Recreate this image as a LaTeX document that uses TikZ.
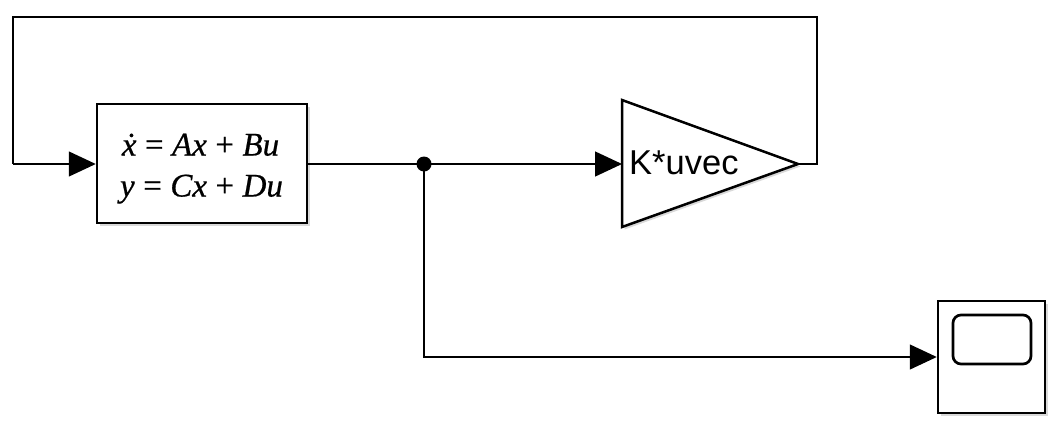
\documentclass[tikz,border=0pt]{standalone}
\usepackage{fontspec}
\setmainfont{Liberation Serif}
\newfontfamily\eqfont[FakeBold=0.6,ItalicFeatures={FakeBold=0.6}]{Liberation Serif}
\newfontfamily\gainfont{Liberation Sans}
\usetikzlibrary{arrows.meta,shadows}
\tikzset{
  sig/.style={line width=1.3pt},
  sigarrow/.style={sig,-{Triangle[length=27pt,width=25pt]}},
  blockshadow/.style={drop shadow={opacity=0.3,shadow xshift=2.5pt,shadow yshift=-2.5pt}},
  blk/.style={draw,line width=2.5pt,fill=white,blockshadow,inner sep=0pt},
  eqtext/.style={anchor=base,inner sep=0pt,font=\eqfont\fontsize{33}{38}\selectfont},
}
\newcommand{\gap}{\hspace{8.5pt}}
\begin{document}
\begin{tikzpicture}[x=1pt,y=-1pt]
\useasboundingbox (0,0) rectangle (1054,421);
% state-space block
\node[blk,minimum width=210pt,minimum height=119pt] (ss) at (202,163.5) {};
\node[eqtext] (eq1) at (200.5,155.5) {\textit{\.{x}}\gap=\gap\textit{Ax}\gap+\gap\textit{Bu}};
\node[eqtext] (eq2) at (201.5,196.5) {\textit{y}\gap=\gap\textit{Cx}\gap+\gap\textit{Du}};
% gain block
\coordinate (gin) at (622,164);
\coordinate (gout) at (798,164);
\filldraw[line width=2.5pt,fill=white,blockshadow,line join=miter] (622,100) -- (gout) -- (622,227) -- cycle;
\node[anchor=base west,inner sep=0pt,font=\gainfont\fontsize{34.5}{36}\selectfont] (gtxt) at (629,174) {K*uvec};
% scope block
\node[blk,minimum width=107pt,minimum height=112pt] (scope) at (991.5,357) {};
\node[draw,line width=2.7pt,rounded corners=8pt,minimum width=78pt,minimum height=49pt,inner sep=0pt] (screen) at (992,339.5) {};
% connectors
\coordinate (j) at (424,164);
\coordinate (tr) at (817,17);
\coordinate (tl) at (13,17);
\coordinate (bl) at (13,164);
\coordinate (jb) at (424,357);
\draw[sig] (ss.east |- j) -- (j);
\draw[sigarrow] (j) -- (gin);
\draw[sig] (gout) -- (817,164) -- (tr) -- (tl) -- (bl);
\draw[sigarrow] (bl) -- (ss.west |- bl);
\draw[sigarrow] (j) -- (jb) -- (scope.west);
\fill (j) circle (7.5pt);
\end{tikzpicture}
\end{document}
